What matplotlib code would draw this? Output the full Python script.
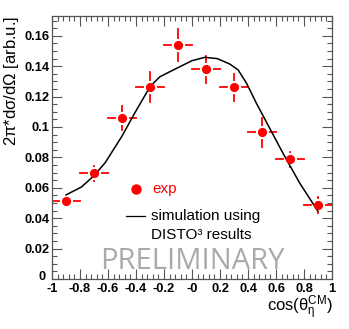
import matplotlib
matplotlib.use("Agg")
import matplotlib.pyplot as plt
from matplotlib.ticker import MultipleLocator, FixedLocator, FixedFormatter

# experimental data
exp_x = [-0.9, -0.7, -0.5, -0.3, -0.1, 0.1, 0.3, 0.5, 0.7, 0.9]
exp_y = [0.051, 0.0695, 0.1057, 0.1263, 0.154, 0.138, 0.126, 0.0965, 0.0787, 0.0487]
exp_yerr = [0.003, 0.0048, 0.008, 0.0099, 0.0107, 0.009, 0.0088, 0.0095, 0.005, 0.005]
exp_xerr = [0.1] * 10

# simulation curve
sim_x = [-0.9, -0.79, -0.7, -0.62, -0.5, -0.41, -0.3, -0.23, -0.11, 0.0,
         0.09, 0.18, 0.27, 0.33, 0.39, 0.46, 0.53, 0.65, 0.77, 0.9]
sim_y = [0.0553, 0.0605, 0.0680, 0.0765, 0.0940, 0.1090, 0.1265, 0.1330,
         0.1386, 0.1436, 0.1458, 0.1450, 0.1414, 0.1375, 0.1287, 0.1156, 0.1035,
         0.0827, 0.0630, 0.0445]

xtick_vals = [-1, -0.8, -0.6, -0.4, -0.2, 0, 0.2, 0.4, 0.6, 0.8, 1]
xtick_labels = ["-1", "-0.8", "-0.6", "-0.4", "-0.2", "-0", "0.2", "0.4", "0.6", "0.8", "1"]
ytick_vals = [0.02, 0.04, 0.06, 0.08, 0.1, 0.12, 0.14, 0.16]
ytick_labels = ["0.02", "0.04", "0.06", "0.08", "0.1", "0.12", "0.14", "0.16"]

plt.rcParams['font.family'] = ['Liberation Sans', 'DejaVu Sans']
plt.rcParams['mathtext.default'] = 'regular'

fig = plt.figure(figsize=(3.49, 3.29), dpi=100)
ax = fig.add_axes([52/349, 1-279/329, 280/349, 263/329])

red = '#ff0000'
# error bars
for x, y, xe, ye in zip(exp_x, exp_y, exp_xerr, exp_yerr):
    ax.plot([x - xe, x + xe], [y, y], color=red, lw=1.3, zorder=2)
    ax.plot([x, x], [y - ye, y + ye], color=red, lw=1.3, zorder=2)
ax.plot(exp_x, exp_y, 'o', ms=8.5, color='white', mec='white', zorder=3)
ax.plot(sim_x, sim_y, color='black', lw=1.1, zorder=4, solid_joinstyle='round')
ax.plot(exp_x, exp_y, 'o', ms=5.6, color=red, mec=red, zorder=5)

ax.set_xlim(-1, 1)
ax.set_ylim(0, 0.173)
ax.xaxis.set_major_locator(FixedLocator(xtick_vals))
ax.xaxis.set_major_formatter(FixedFormatter(xtick_labels))
ax.yaxis.set_major_locator(FixedLocator([0] + ytick_vals))
ax.yaxis.set_major_formatter(FixedFormatter([""] + ytick_labels))
ax.xaxis.set_minor_locator(MultipleLocator(0.04))
ax.yaxis.set_minor_locator(MultipleLocator(0.005))
ax.tick_params(which='both', direction='in', top=True, right=True, color='#555555')
ax.tick_params(which='major', length=7, width=0.8, labelsize=9.3, pad=2)
ax.tick_params(axis='x', which='major', pad=3)
ax.tick_params(which='minor', length=3.5, width=0.8)
for lab in ax.get_xticklabels() + ax.get_yticklabels():
    lab.set_fontweight('bold')
for s in ax.spines.values():
    s.set_color('#555555')
    s.set_linewidth(0.9)

# y "0" label placed like the reference
fig.text(46/349, 1-277/329, "0", fontsize=9.3, fontweight='bold', ha='right', va='center')

fig.text(12/349, 1-16/329, r"2$\pi$*d$\sigma$/d$\Omega$ [arb.u.]", fontsize=12,
         rotation=90, ha='center', va='top')
fig.text(333/349, 1-308/329, r"cos($\theta_{\eta}^{CM}$)", fontsize=12, ha='right', va='center')

# legend (manual)
ax.plot([-0.4], [0.0592], 'o', ms=6.5, color=red)
ax.text(-0.283, 0.0592, "exp", color=red, fontsize=11, va='center')
ax.plot([-0.471, -0.336], [0.0416, 0.0416], color='black', lw=0.9)
ax.text(-0.29, 0.0416, "simulation using", color='black', fontsize=11, va='center')
ax.text(-0.29, 0.0290, "DISTO\u00b3 results", color='black', fontsize=11, va='center')

ax.text(0.0, 0.0115, "PRELIMINARY", color='#aaaaaa', fontsize=21, ha='center', va='center',
        family=['Open Sans', 'DejaVu Sans'], zorder=1)

fig.savefig("out.png", dpi=100)
